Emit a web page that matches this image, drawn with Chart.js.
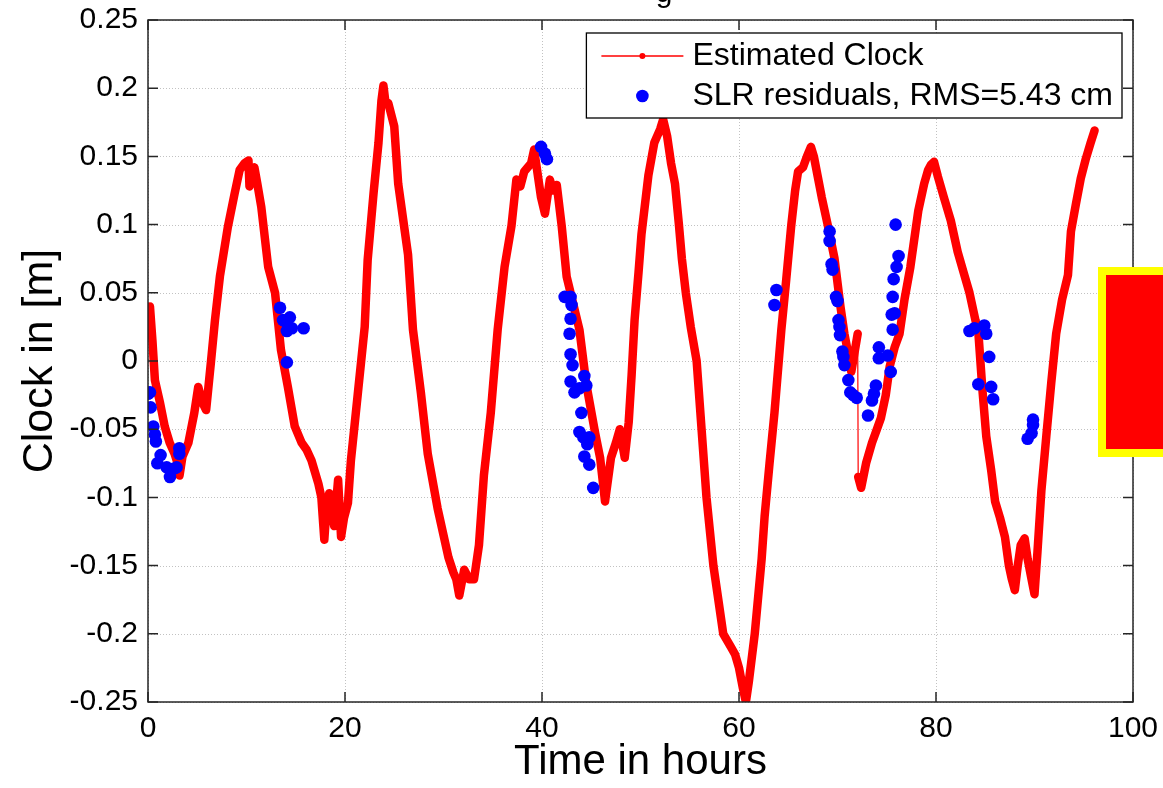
<!DOCTYPE html>
<html>
<head>
<meta charset="utf-8">
<title>Estimated Clock x SLR</title>
<script src="https://cdn.jsdelivr.net/npm/chart.js@4.4.0/dist/chart.umd.min.js"></script>
<style>
  body { margin: 0; background: #fff; overflow: hidden; }
  #wrap { position: relative; width: 1163px; height: 788px; }
  #marca { position: absolute; left: 1098px; top: 267px; width: 80px; height: 190px;
    background: #ff0000; border: 8px solid #ffff00; box-sizing: border-box; }
</style>
</head>
<body>
<div id="wrap">
  <canvas id="grafico" width="1163" height="788"></canvas>
  <div id="marca"></div>
</div>
<script>
// relogio estimado (horas, metros)
const horasRelogio = [
  0.0, 0.2, 0.45, 0.7, 1.2, 1.7, 2.2, 2.7, 3.0, 3.2, 3.5, 4.1, 4.7, 5.1, 5.5, 5.9,
  6.4, 6.8, 7.3, 8.1, 8.8, 9.3, 9.8, 10.2, 10.3, 10.8, 11.1, 11.5, 12.2, 12.9, 13.5, 14.2,
  14.9, 15.6, 16.1, 16.6, 17.3, 17.6, 17.9, 18.1, 18.4, 18.9, 19.3, 19.6, 19.9, 20.3, 20.6, 21.3,
  22.0, 22.3, 22.9, 23.4, 23.7, 23.9, 24.1, 24.4, 25.0, 25.4, 26.4, 26.9, 27.7, 28.4, 29.4, 30.5,
  31.0, 31.3, 31.6, 32.1, 32.6, 33.1, 33.6, 34.1, 34.8, 35.5, 36.2, 36.9, 37.4, 37.8, 38.2, 38.9,
  39.2, 39.6, 39.9, 40.3, 40.8, 41.1, 41.5, 42.0, 42.5, 43.1, 43.8, 44.5, 45.4, 45.9, 46.4, 47.0,
  47.5, 47.9, 48.4, 48.8, 49.1, 49.4, 49.8, 50.1, 50.8, 51.4, 52.0, 52.3, 52.7, 53.1, 53.5, 53.9,
  54.2, 54.6, 55.1, 55.7, 56.2, 56.7, 57.4, 57.9, 58.4, 58.8, 59.2, 59.6, 60.0, 60.4, 60.7, 61.0,
  61.6, 62.3, 62.6, 63.1, 63.6, 64.3, 64.8, 65.3, 65.7, 66.0, 66.5, 66.9, 67.3, 67.6, 68.0, 68.4,
  69.0, 69.7, 70.3, 70.7, 71.1, 71.4, 71.7, 72.05, 72.1, 72.4, 72.9, 73.5, 74.0, 74.4, 74.9, 75.3,
  75.8, 76.3, 76.8, 77.4, 78.2, 78.8, 79.2, 79.5, 79.8, 80.2, 80.8, 81.5, 82.2, 82.8, 83.4, 84.0,
  84.3, 84.7, 85.1, 85.6, 86.0, 86.5, 87.0, 87.4, 87.7, 88.0, 88.3, 88.6, 89.0, 89.3, 89.7, 90.0,
  90.3, 90.7, 91.2, 91.7, 92.2, 92.8, 93.4, 93.7, 94.2, 94.7, 95.2, 95.7, 96.1
];
const valoresRelogio = [
  0.037, 0.04, 0.015, -0.014, -0.03, -0.048, -0.06, -0.068, -0.075, -0.084, -0.07, -0.06, -0.038, -0.019, -0.03, -0.036,
  0.0, 0.03, 0.062, 0.098, 0.123, 0.14, 0.145, 0.147, 0.128, 0.142, 0.13, 0.113, 0.069, 0.05, 0.008, -0.019,
  -0.048, -0.06, -0.065, -0.073, -0.09, -0.1, -0.131, -0.11, -0.097, -0.121, -0.087, -0.129, -0.115, -0.104, -0.073, -0.024,
  0.025, 0.074, 0.123, 0.16, 0.191, 0.202, 0.19, 0.189, 0.172, 0.13, 0.078, 0.023, -0.023, -0.068, -0.108, -0.144,
  -0.155, -0.16, -0.172, -0.153, -0.16, -0.16, -0.135, -0.084, -0.038, 0.023, 0.069, 0.099, 0.133, 0.128, 0.139, 0.145,
  0.155, 0.135, 0.12, 0.108, 0.133, 0.125, 0.129, 0.099, 0.062, 0.044, 0.023, -0.017, -0.053, -0.071, -0.103, -0.071,
  -0.06, -0.05, -0.071, -0.045, -0.01, 0.03, 0.065, 0.093, 0.136, 0.16, 0.17, 0.177, 0.165, 0.145, 0.13, 0.1,
  0.075, 0.05, 0.025, 0.0, -0.05, -0.1, -0.15, -0.175, -0.2, -0.205, -0.21, -0.215, -0.225, -0.24, -0.25, -0.235,
  -0.2, -0.145, -0.114, -0.075, -0.038, 0.023, 0.06, 0.099, 0.125, 0.139, 0.142, 0.15, 0.157, 0.15, 0.135, 0.12,
  0.1, 0.075, 0.04, 0.02, 0.005, -0.008, 0.005, 0.02, -0.085, -0.093, -0.075, -0.06, -0.05, -0.042, -0.025, -0.004,
  0.01, 0.02, 0.045, 0.069, 0.11, 0.13, 0.14, 0.144, 0.146, 0.135, 0.12, 0.103, 0.08, 0.065, 0.05, 0.03,
  0.021, -0.02, -0.055, -0.08, -0.103, -0.115, -0.129, -0.15, -0.16, -0.168, -0.15, -0.135, -0.13, -0.145, -0.16, -0.171,
  -0.14, -0.095, -0.055, -0.016, 0.02, 0.045, 0.063, 0.095, 0.115, 0.134, 0.148, 0.16, 0.169
];

// residuos SLR
const horasSLR = [
  0.0, 0.2, 0.27, 0.54, 0.7, 0.8, 0.95, 1.28, 1.9, 2.23, 2.57, 2.9, 3.18, 3.18,
  13.4, 13.7, 14.1, 14.1, 14.4, 14.6, 15.8, 14.1,
  39.9, 40.3, 40.5,
  42.3, 42.9, 43.0, 42.9, 42.8, 42.9, 43.1, 42.9, 43.3, 44.3, 44.5, 43.8, 44.0, 43.8, 44.2, 44.8, 44.6, 44.3, 44.8, 45.2,
  63.8, 63.6,
  69.2, 69.2, 69.4, 69.5, 69.85, 70.0, 70.1, 70.2, 70.25, 70.5, 70.6, 70.7, 71.1, 71.3, 71.6, 71.95,
  73.1, 73.5, 73.7, 73.9, 74.2, 74.2, 75.1, 75.4, 75.6, 75.5, 75.8, 75.6, 75.7, 76.0, 76.2, 75.9,
  83.4, 83.9, 84.9, 85.1, 85.4, 84.3, 85.6, 85.8,
  89.3, 89.7, 89.85, 89.85
];
const valoresSLR = [
  -0.024, -0.023, -0.034, -0.048, -0.054, -0.059, -0.075, -0.069, -0.078, -0.085, -0.079, -0.078, -0.064, -0.068,
  0.039, 0.03, 0.028, 0.022, 0.032, 0.024, 0.024, -0.001,
  0.157, 0.152, 0.148,
  0.047, 0.047, 0.041, 0.031, 0.02, 0.005, -0.003, -0.015, -0.023, -0.011, -0.018, -0.02, -0.038, -0.052, -0.056, -0.056, -0.061, -0.07, -0.076, -0.093,
  0.052, 0.041,
  0.095, 0.088, 0.071, 0.067, 0.047, 0.044, 0.03, 0.025, 0.019, 0.007, 0.003, -0.003, -0.014, -0.023, -0.025, -0.027,
  -0.04, -0.029, -0.024, -0.018, 0.01, 0.002, 0.004, -0.008, 0.023, 0.034, 0.035, 0.047, 0.06, 0.069, 0.077, 0.1,
  0.022, 0.024, 0.026, 0.02, 0.003, -0.017, -0.019, -0.028,
  -0.057, -0.053, -0.047, -0.043
];

const ticksX = [0, 20, 40, 60, 80, 100];
const ticksY = [-0.25, -0.2, -0.15, -0.1, -0.05, 0, 0.05, 0.1, 0.15, 0.2, 0.25];
const rotulosY = ['-0.25', '-0.2', '-0.15', '-0.1', '-0.05', '0', '0.05', '0.1', '0.15', '0.2', '0.25'];

const fonte = '"Liberation Sans", Arial, sans-serif';

var dadosRelogio = horasRelogio.map((h, i) => ({ x: h, y: valoresRelogio[i] }));
var dadosSLR = horasSLR.map((h, i) => ({ x: h, y: valoresSLR[i] }));

// grade pontilhada, moldura e ticks para dentro (estilo matlab)
const pluginEixos = {
  id: 'eixos',
  beforeDatasetsDraw(chart) {
    const ctx = chart.ctx, a = chart.chartArea;
    const x = chart.scales.x, y = chart.scales.y;
    ctx.save();
    ctx.strokeStyle = '#c2c2c2';
    ctx.lineWidth = 1;
    ctx.setLineDash([1, 2]);
    ctx.beginPath();
    ticksX.forEach(t => {
      var px = Math.round(x.getPixelForValue(t)) + 0.5;
      ctx.moveTo(px, a.top); ctx.lineTo(px, a.bottom);
    });
    ticksY.forEach(t => {
      var py = Math.round(y.getPixelForValue(t)) + 0.5;
      ctx.moveTo(a.left, py); ctx.lineTo(a.right, py);
    });
    ctx.stroke();
    ctx.restore();
  },
  afterDatasetsDraw(chart) {
    const ctx = chart.ctx, a = chart.chartArea;
    const x = chart.scales.x, y = chart.scales.y;
    const tam = 10;
    ctx.save();
    ctx.strokeStyle = '#262626';
    ctx.lineWidth = 1.5;
    ctx.strokeRect(a.left, a.top, a.right - a.left, a.bottom - a.top);
    ctx.beginPath();
    ticksX.forEach(t => {
      var px = x.getPixelForValue(t);
      ctx.moveTo(px, a.bottom); ctx.lineTo(px, a.bottom - tam);
      ctx.moveTo(px, a.top); ctx.lineTo(px, a.top + tam);
    });
    ticksY.forEach(t => {
      var py = y.getPixelForValue(t);
      ctx.moveTo(a.left, py); ctx.lineTo(a.left + tam, py);
      ctx.moveTo(a.right, py); ctx.lineTo(a.right - tam, py);
    });
    ctx.stroke();
    ctx.restore();
  },
  afterDraw(chart) {
    const ctx = chart.ctx, a = chart.chartArea;
    const ds = chart.data.datasets;
    ctx.save();
    // pedaco do titulo cortado no topo
    ctx.fillStyle = '#000';
    ctx.font = '30px ' + fonte;
    ctx.textBaseline = 'alphabetic';
    ctx.textAlign = 'center';
    ctx.fillText('g', 664, 2);

    // legenda
    ctx.font = '32px ' + fonte;
    var larguraTexto = Math.max(ctx.measureText(ds[0].label).width, ctx.measureText(ds[1].label).width);
    var w = 106 + larguraTexto + 9;
    var h = 85;
    var bx = a.right - 11 - w;
    var by = a.top + 13;
    ctx.fillStyle = '#fff';
    ctx.fillRect(bx, by, w, h);
    ctx.strokeStyle = '#000';
    ctx.lineWidth = 1.3;
    ctx.strokeRect(bx, by, w, h);

    var y1 = by + 23, y2 = by + 63;
    ctx.strokeStyle = '#ff0000';
    ctx.lineWidth = 1.5;
    ctx.beginPath();
    ctx.moveTo(bx + 15, y1); ctx.lineTo(bx + 97, y1);
    ctx.stroke();
    ctx.fillStyle = '#ff0000';
    ctx.beginPath(); ctx.arc(bx + 56, y1, 3, 0, Math.PI * 2); ctx.fill();
    ctx.fillStyle = '#0000ff';
    ctx.beginPath(); ctx.arc(bx + 56, y2, 6.3, 0, Math.PI * 2); ctx.fill();

    ctx.fillStyle = '#000';
    ctx.textAlign = 'left';
    ctx.textBaseline = 'middle';
    ctx.fillText(ds[0].label, bx + 106, y1);
    ctx.fillText(ds[1].label, bx + 106, y2);
    ctx.restore();
  }
};

const config = {
  type: 'scatter',
  data: {
    datasets: [{
      label: 'Estimated Clock',
      data: dadosRelogio,
      showLine: true,
      borderColor: '#ff0000',
      backgroundColor: '#ff0000',
      borderWidth: 8.5,
      borderCapStyle: 'round',
      borderJoinStyle: 'round',
      pointRadius: 0,
      segment: {
        borderWidth: c => (c.p1.parsed.x - c.p0.parsed.x) < 0.1 ? 1.2 : 8.5
      },
      order: 2
    }, {
      label: 'SLR residuals, RMS=5.43 cm',
      data: dadosSLR,
      showLine: false,
      backgroundColor: '#0000ff',
      borderWidth: 0,
      pointRadius: 6.3,
      order: 1
    }]
  },
  options: {
    responsive: false,
    animation: false,
    devicePixelRatio: 1,
    layout: { padding: { top: 20, right: 30, left: 0, bottom: 0 } },
    plugins: {
      legend: { display: false },
      tooltip: { enabled: false }
    },
    scales: {
      x: {
        type: 'linear',
        min: 0,
        max: 100,
        afterBuildTicks: s => { s.ticks = ticksX.map(v => ({ value: v })); },
        afterFit: s => { s.height = 86; s.paddingLeft = 0; s.paddingRight = 0; },
        grid: { display: false, drawTicks: false },
        border: { display: false },
        ticks: { color: '#000', font: { family: fonte, size: 30 }, padding: 9, maxRotation: 0 },
        title: { display: true, text: 'Time in hours', color: '#000',
          font: { family: fonte, size: 42 }, padding: { top: 0, bottom: 0 } }
      },
      y: {
        type: 'linear',
        min: -0.25,
        max: 0.25,
        afterBuildTicks: s => { s.ticks = ticksY.map(v => ({ value: v })); },
        afterFit: s => { s.width = 148; s.paddingTop = 0; s.paddingBottom = 0; },
        grid: { display: false, drawTicks: false },
        border: { display: false },
        ticks: {
          color: '#000', font: { family: fonte, size: 30 }, padding: 10,
          callback: (v, i) => rotulosY[i]
        },
        title: { display: true, text: 'Clock in [m]', color: '#000',
          font: { family: fonte, size: 43 }, padding: { top: 14, bottom: 0 } }
      }
    }
  },
  plugins: [pluginEixos]
};

const grafico = new Chart(document.getElementById('grafico').getContext('2d'), config);
</script>
</body>
</html>
